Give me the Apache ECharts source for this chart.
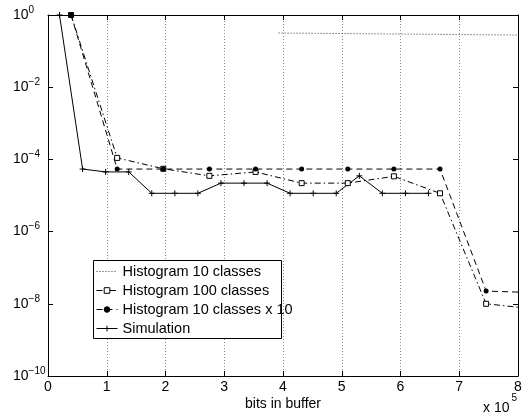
<!DOCTYPE html>
<html><head><meta charset="utf-8">
<script src="https://cdn.jsdelivr.net/npm/echarts@6/dist/echarts.min.js"></script>
<style>html,body{margin:0;padding:0;background:#fff}#c{width:528px;height:416px}</style>
</head><body><div id="c"></div>
<script>
// x positions are in units of 1e5 bits
const simX = [0.196, 0.589, 0.981, 1.374, 1.766, 2.159, 2.551, 2.944, 3.336, 3.729, 4.121, 4.514, 4.906, 5.299, 5.691, 6.084, 6.476];
const simY = [1, 5.4e-5, 4.5e-5, 4.5e-5, 1.15e-5, 1.15e-5, 1.15e-5, 2.2e-5, 2.2e-5, 2.2e-5, 1.15e-5, 1.15e-5, 1.15e-5, 3.5e-5, 1.15e-5, 1.15e-5, 1.15e-5];
const histX = [0.3925, 1.1775, 1.9625, 2.7475, 3.5325, 4.3175, 5.1025, 5.8875, 6.6725, 7.4575, 8.2425];
const hist100Y = [1, 1.1e-4, 5.5e-5, 3.5e-5, 4.5e-5, 2.2e-5, 2.2e-5, 3.4e-5, 1.15e-5, 1.0e-8, 7.3e-9];
const hist10x10Y = [1, 5.4e-5, 5.4e-5, 5.4e-5, 5.4e-5, 5.4e-5, 5.4e-5, 5.4e-5, 5.4e-5, 2.25e-8, 2.05e-8];
const hist10X = [3.925, 11.775];
const hist10Y = [0.317, 0.247];
const xTickLabels = ['0', '1', '2', '3', '4', '5', '6', '7', '8'];
const seriesNames = ['Histogram 10 classes', 'Histogram 100 classes', 'Histogram 10 classes x 10', 'Simulation'];

const FONT = 'Liberation Sans, Arial, Helvetica, sans-serif';
const zip = (xs, ys) => xs.map((x, i) => [x, ys[i]]);
const chart = echarts.init(document.getElementById('c'), null, {renderer: 'canvas'});

const baseAxisX = {
  type: 'value', min: 0, max: 8, interval: 1,
  axisLine: {show: true, onZero: false, lineStyle: {color: '#000', width: 1}},
  axisTick: {show: true, inside: true, length: 5, lineStyle: {color: '#000'}},
};
const baseAxisY = {
  type: 'log', logBase: 10, min: 1e-10, max: 1, interval: 2,
  axisLine: {show: true, onZero: false, lineStyle: {color: '#000', width: 1}},
  axisTick: {show: true, inside: true, length: 5, lineStyle: {color: '#000'}},
  minorTick: {show: false}, minorSplitLine: {show: false}
};

chart.setOption({
  animation: false,
  backgroundColor: '#fff',
  grid: {left: 48, right: 10, top: 15, bottom: 40, containLabel: false, outerBoundsMode: 'none'},
  xAxis: [
    Object.assign({}, baseAxisX, {
      position: 'bottom',
      name: 'bits in buffer', nameLocation: 'middle', nameGap: 21, nameMoveOverlap: false,
      nameTextStyle: {fontFamily: FONT, fontSize: 14, color: '#000'},
      axisLabel: {show: true, margin: 4, fontFamily: FONT, fontSize: 14, color: '#000',
        formatter: v => xTickLabels[Math.round(v)]},
      splitLine: {show: true, lineStyle: {color: '#888', width: 1, type: [1, 2]}}
    }),
    Object.assign({}, baseAxisX, {
      position: 'top', axisLabel: {show: false}, splitLine: {show: false}
    })
  ],
  yAxis: [
    Object.assign({}, baseAxisY, {
      position: 'left',
      axisLabel: {
        show: true, align: 'left', margin: 35, color: '#000',
        formatter: v => {
          const e = Math.round(Math.log10(v));
          return '{b|10}{s|' + (e < 0 ? '\u2212' + (-e) : String(e)) + '}';
        },
        rich: {
          b: {fontFamily: FONT, fontSize: 14, color: '#000', lineHeight: 20},
          s: {fontFamily: FONT, fontSize: 10, color: '#000', verticalAlign: 'top', lineHeight: 12}
        }
      },
      splitLine: {show: false}
    }),
    Object.assign({}, baseAxisY, {
      position: 'right', axisLabel: {show: false}, splitLine: {show: false}
    })
  ],
  legend: {
    orient: 'vertical', left: 96, top: 264, padding: 0,
    itemWidth: 21, itemHeight: 7, itemGap: 4,
    data: seriesNames,
    lineStyle: {width: 1},
    itemStyle: {borderWidth: 1},
    textStyle: {fontFamily: FONT, fontSize: 14.5, lineHeight: 15, color: '#000'},
    selectedMode: false, z: 5
  },
  graphic: [
    {type: 'rect', z: 3, shape: {x: 93.5, y: 260.5, width: 188, height: 78},
      style: {fill: '#fff', stroke: '#000', lineWidth: 1}},
    {type: 'text', x: 483, y: 408.5, z: 5,
      style: {text: 'x 10', fontFamily: FONT, fontSize: 14, fill: '#000', textAlign: 'left', textVerticalAlign: 'middle'}},
    {type: 'text', x: 511.5, y: 398.5, z: 5,
      style: {text: '5', fontFamily: FONT, fontSize: 10, fill: '#000', textAlign: 'left', textVerticalAlign: 'middle'}}
  ],
  series: [
    {
      name: seriesNames[0], type: 'line', data: zip(hist10X, hist10Y), clip: true,
      symbol: 'none', showSymbol: false,
      lineStyle: {color: '#333', width: 1, type: [1, 2]},
      itemStyle: {color: 'rgba(0,0,0,0)', borderColor: 'rgba(0,0,0,0)', borderWidth: 0}
    },
    {
      name: seriesNames[1], type: 'line', data: zip(histX, hist100Y), clip: true,
      symbol: 'rect', symbolSize: 5,
      lineStyle: {color: '#000', width: 1, type: [6, 3, 1.5, 3]},
      itemStyle: {color: '#fff', borderColor: '#000', borderWidth: 1}
    },
    {
      name: seriesNames[2], type: 'line', data: zip(histX, hist10x10Y), clip: true,
      symbol: 'circle', symbolSize: 5,
      lineStyle: {color: '#000', width: 1, type: [6, 4]},
      itemStyle: {color: '#000', borderColor: '#000', borderWidth: 0}
    },
    {
      name: seriesNames[3], type: 'line', data: zip(simX, simY), clip: true,
      symbol: 'path://M0,5L10,5M5,0L5,10', symbolSize: 6,
      lineStyle: {color: '#000', width: 1, type: 'solid'},
      itemStyle: {color: 'none', borderColor: '#000', borderWidth: 1}
    }
  ]
});
</script>
</body></html>
